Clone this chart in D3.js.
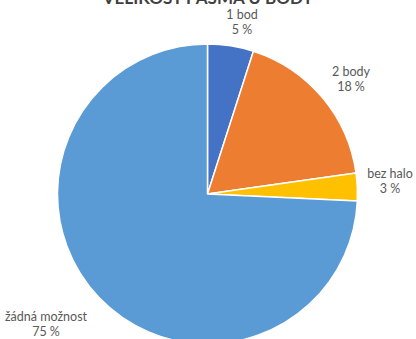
<!DOCTYPE html>
<html>
<head>
<meta charset="utf-8">
<script src="https://cdn.jsdelivr.net/npm/d3@7"></script>
<style>
  html, body { margin: 0; padding: 0; background: #fff; }
  svg { display: block; }
</style>
</head>
<body>
<svg id="chart" width="416" height="339"></svg>
<script>
// Slice data
const categories = ["1 bod", "2 body", "bez halo", "žádná možnost"];
const values = [5, 18, 3, 75];
const valueLabels = ["5 %", "18 %", "3 %", "75 %"];
const colors = ["#4472C4", "#ED7D31", "#FFC000", "#5B9BD5"];
const title = "VELIKOST PÁSMA U BODY";

const svg = d3.select("#chart");
const cx = 207.5, cy = 194, r = 150;

const data = categories.map((c, i) => ({ cat: c, value: values[i], label: valueLabels[i], color: colors[i] }));

const pie = d3.pie().sort(null).value(d => d.value);
const arc = d3.arc().innerRadius(0).outerRadius(r);
const arcs = pie(data);

const g = svg.append("g").attr("transform", `translate(${cx},${cy})`);
g.selectAll("path")
  .data(arcs)
  .join("path")
  .attr("d", arc)
  .attr("fill", d => d.data.color)
  .attr("stroke", "#fff")
  .attr("stroke-width", 1.5)
  .attr("stroke-linejoin", "round");

// Title, running off the top edge of the chart area
svg.append("text")
  .attr("x", 208)
  .attr("y", 4)
  .attr("text-anchor", "middle")
  .attr("font-family", "Lato, 'Open Sans', sans-serif")
  .attr("font-weight", "bold")
  .attr("font-size", 17)
  .attr("fill", "#404040")
  .text(title);

// Category / percentage labels outside the slices
const labelPos = [
  { x: 242, y: 19 },
  { x: 351, y: 76 },
  { x: 390, y: 178 },
  { x: 46, y: 321 }
];
const lbl = svg.append("g")
  .attr("font-family", "Lato, 'Open Sans', sans-serif")
  .attr("font-size", 12.5)
  .attr("fill", "#595959")
  .attr("text-anchor", "middle");

arcs.forEach((a, i) => {
  const p = labelPos[i];
  const t = lbl.append("text").attr("x", p.x).attr("y", p.y);
  t.append("tspan").attr("x", p.x).text(a.data.cat);
  t.append("tspan").attr("x", p.x).attr("dy", 15).text(a.data.label);
});
</script>
</body>
</html>
